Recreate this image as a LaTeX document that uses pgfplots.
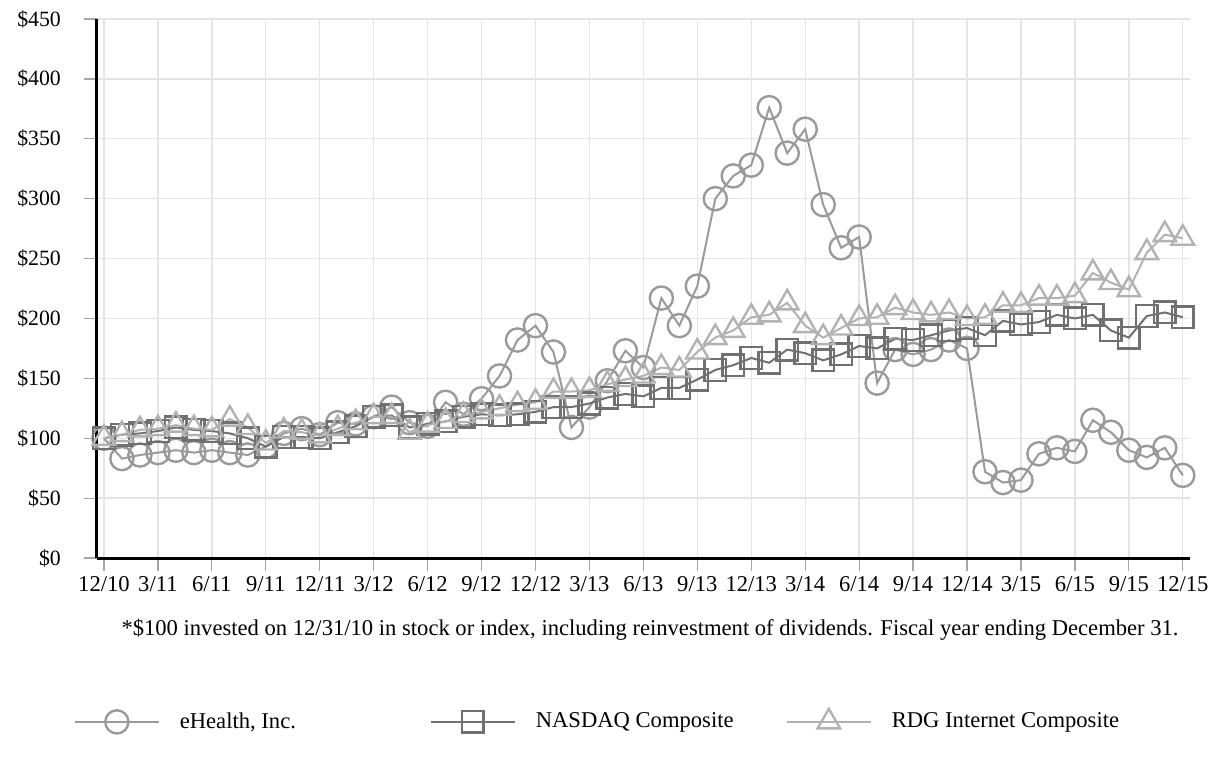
\documentclass[border=0pt]{standalone}
\usepackage{pgfplots}
\pgfplotsset{compat=1.18}
\usepackage{fontspec}
\setmainfont{Liberation Serif}

\definecolor{ehealth}{HTML}{9A9A9A}
\definecolor{nasdaq}{HTML}{707070}
\definecolor{rdg}{HTML}{B2B2B2}
\definecolor{gridgray}{HTML}{E4E4E4}

\newcommand{\lblfont}{\fontsize{11.3}{13}\selectfont}
\newcommand{\yfont}{\fontsize{10.9}{12}\selectfont}

\pgfplotstableread{
i ehealth nasdaq rdg
0 100 100 100
1 83 103 103
2 86 104 107
3 88 106 108
4 90 109 111
5 88 107 108
6 90 106 107
7 88 104 116
8 86 100 109
9 93 93 96
10 104 101 106
11 108 101 105
12 103 100 102
13 113 105 108
14 112 110 113
15 118 118 118
16 126 119 118
17 113 109 105
18 110 112 111
19 130 114 114
20 120 118 119
21 133 120 122
22 152 119 125
23 182 120 128
24 194 122 130
25 172 126 139
26 109 126 139
27 126 129 140
28 148 134 145
29 173 137 149
30 159 135 152
31 217 142 159
32 194 142 157
33 227 149 172
34 300 157 184
35 319 161 190
36 328 167 201
37 376 163 203
38 338 174 213
39 358 171 194
40 295 165 184
41 259 170 192
42 268 177 200
43 146 175 201
44 174 183 209
45 170 182 205
46 174 186 203
47 182 190 205
48 175 192 200
49 72 186 201
50 63 198 211
51 65 195 211
52 87 197 217
53 92 203 217
54 89 200 219
55 115 203 238
56 105 190 230
57 90 184 224
58 84 202 255
59 92 205 270
60 69 201 267
}\datatable

\begin{document}
\begin{tikzpicture}
\begin{axis}[
    scale only axis,
    width=546.5pt, height=269.5pt,
    xmin=-0.39, xmax=60.4,
    ymin=0, ymax=450,
    axis lines=left,
    axis line style={-, line width=1.5pt, black},
    tick align=outside,
    major tick length=6.5pt,
    tick style={gray!70, line width=0.6pt},
    xtick={0,3,...,60},
    xticklabels={12/10,3/11,6/11,9/11,12/11,3/12,6/12,9/12,12/12,3/13,6/13,9/13,12/13,3/14,6/14,9/14,12/14,3/15,6/15,9/15,12/15},
    ytick={0,50,...,450},
    yticklabel={\$\pgfmathprintnumber{\tick}},
    /pgf/number format/assume math mode=true,
    ticklabel style={text=black},
    yticklabel style={font=\yfont, xshift=-8pt},
    xticklabel style={font=\lblfont, yshift=1pt},
    grid=major,
    major grid style={gridgray, line width=0.7pt},
    clip=false,
    legend columns=3,
    legend cell align=left,
    legend style={draw=none, fill=none, font=\lblfont, at={(-0.027,-0.304)}, anchor=west,
        /tikz/every odd column/.append style={column sep=8pt},
        /tikz/every even column/.append style={column sep=23pt}},
    legend image code/.code={\draw[mark repeat=2,mark phase=2] plot coordinates {(0pt,0pt) (21pt,0pt) (42pt,0pt)};},
]
\addplot[ehealth, line width=1pt, mark=o, mark size=5.8pt, mark options={line width=1.2pt}] table[x=i, y=ehealth] {\datatable};
\addlegendentry{\makebox[100pt][l]{eHealth, Inc.}}
\addplot[nasdaq, line width=1pt, mark=square, mark size=5.4pt, mark options={line width=1.2pt}] table[x=i, y=nasdaq] {\datatable};
\addlegendentry{\makebox[100pt][l]{NASDAQ Composite}}
\addplot[rdg, line width=1pt, mark=triangle, mark size=6.5pt, mark options={line width=1.2pt}] table[x=i, y=rdg] {\datatable};
\addlegendentry{RDG Internet Composite}

\node[font=\lblfont, text=black] at (rel axis cs:0.506,-0.134) {*\$100 invested on 12/31/10 in stock or index, including reinvestment of dividends. Fiscal year ending December 31.};
\path (rel axis cs:-0.0887,-0.384) rectangle (rel axis cs:1.0238,1.0353);
\end{axis}
\end{tikzpicture}
\end{document}
